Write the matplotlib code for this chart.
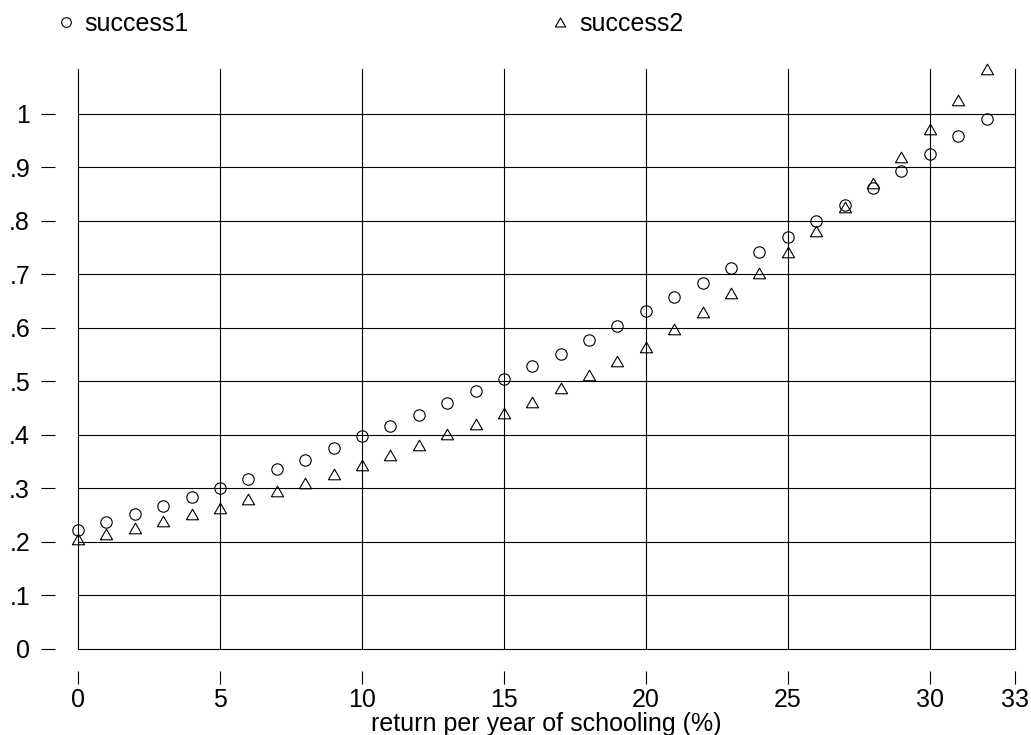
import matplotlib
matplotlib.use("Agg")
import matplotlib.pyplot as plt

# return per year of schooling (%)
schooling_return = [0, 1, 2, 3, 4, 5, 6, 7, 8, 9, 10, 11, 12, 13, 14, 15, 16,
                    17, 18, 19, 20, 21, 22, 23, 24, 25, 26, 27, 28, 29, 30, 31, 32]

success1 = [0.223, 0.238, 0.252, 0.268, 0.284, 0.300, 0.318, 0.336, 0.354, 0.375,
            0.397, 0.417, 0.438, 0.459, 0.482, 0.505, 0.528, 0.552, 0.578, 0.603,
            0.631, 0.658, 0.684, 0.712, 0.741, 0.769, 0.800, 0.829, 0.861, 0.893,
            0.924, 0.958, 0.991]

success2 = [0.206, 0.215, 0.226, 0.239, 0.252, 0.263, 0.280, 0.295, 0.311, 0.327,
            0.343, 0.362, 0.382, 0.401, 0.420, 0.441, 0.462, 0.487, 0.512, 0.538,
            0.565, 0.597, 0.629, 0.665, 0.702, 0.741, 0.781, 0.826, 0.871, 0.920,
            0.972, 1.025, 1.083]

xticks = [0, 5, 10, 15, 20, 25, 30, 33]
yticks = [0, 0.1, 0.2, 0.3, 0.4, 0.5, 0.6, 0.7, 0.8, 0.9, 1.0]
ytick_labels = ['0', '.1', '.2', '.3', '.4', '.5', '.6', '.7', '.8', '.9', '1']

plt.rcParams['font.family'] = ['Liberation Sans', 'DejaVu Sans']
plt.rcParams['font.size'] = 18

# equilateral triangle, like Stata's
tri = [(-1, -0.866), (1, -0.866), (0, 0.866), (-1, -0.866)]

W, H = 1031, 735
fig = plt.figure(figsize=(W / 100, H / 100), dpi=100)
ax = fig.add_axes([78 / W, (H - 649) / H, (1015 - 78) / W, (649 - 69) / H])

ax.plot(schooling_return, success1, linestyle='none', marker='o', ms=8.2,
        mfc='none', mec='black', mew=0.8, label='success1', clip_on=False, zorder=3)
ax.plot(schooling_return, success2, linestyle='none', marker=tri, ms=8.8,
        mfc='none', mec='black', mew=0.8, label='success2', clip_on=False, zorder=3)

ax.set_xlim(0, 33)
ax.set_ylim(0, 1.0835)
ax.set_xticks(xticks)
ax.set_yticks(yticks)
ax.set_yticklabels(ytick_labels)

ax.grid(True, color='black', linewidth=0.8, clip_on=False)
ax.set_axisbelow(True)

for s in ['top', 'right', 'left', 'bottom']:
    ax.spines[s].set_visible(False)
ax.spines['left'].set_position(('outward', 16.5))
ax.spines['bottom'].set_position(('outward', 15.5))

ax.tick_params(axis='y', length=10, width=0.8, pad=8, color='black')
ax.tick_params(axis='x', length=9.5, width=0.8, pad=3, color='black')

ax.set_xlabel('return per year of schooling (%)', labelpad=0)

fig.legend(loc='upper left', bbox_to_anchor=(46 / W, 1 - 2 / H), ncol=2,
           frameon=False, handlelength=0.8, handletextpad=0.35,
           columnspacing=14.45, markerscale=0.85, borderaxespad=0)

fig.savefig('out.png', dpi=100)
